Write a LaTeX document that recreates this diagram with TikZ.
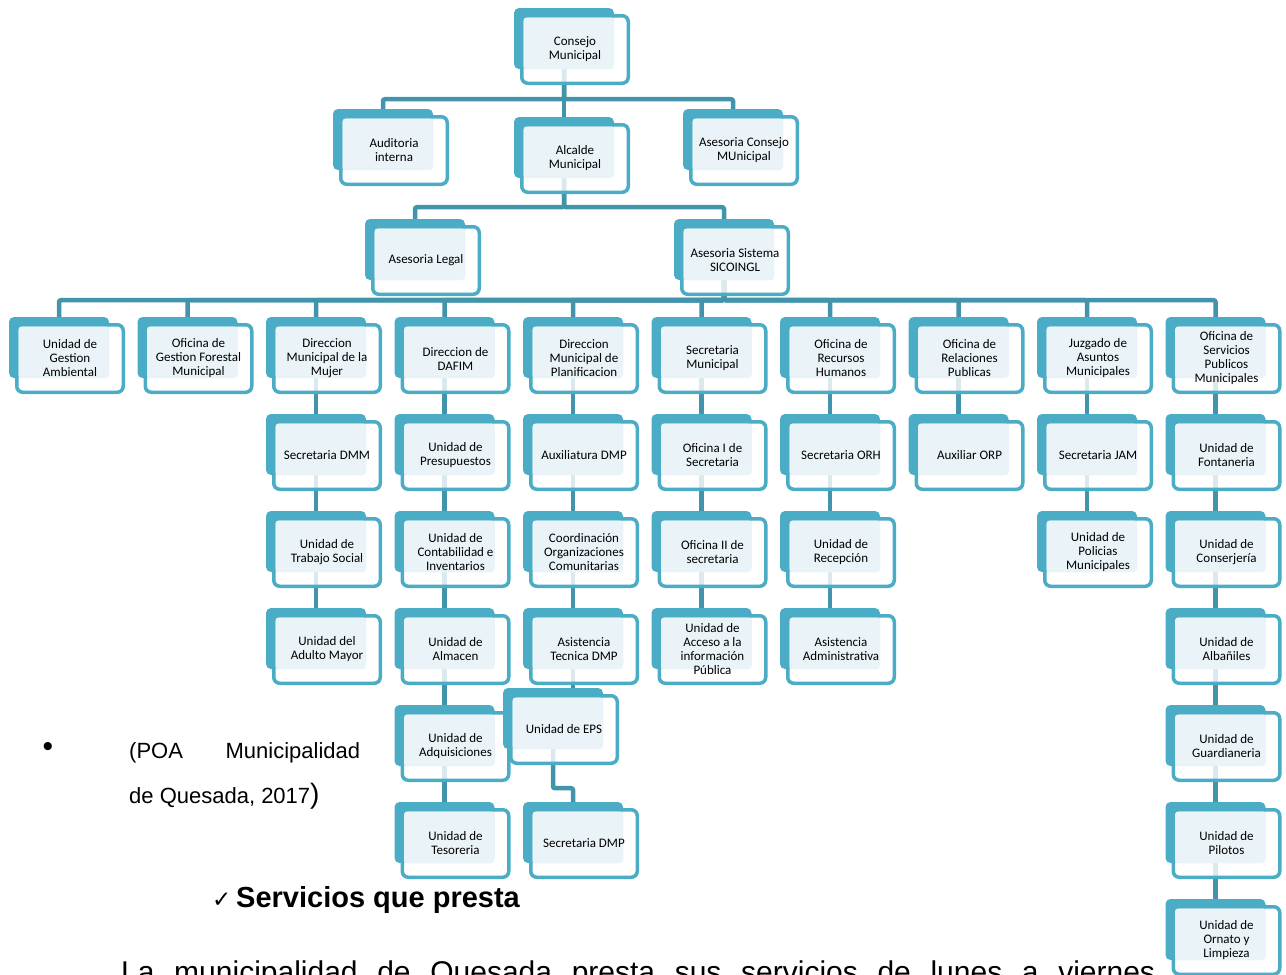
\documentclass[tikz,border=0pt]{standalone}
\usepackage{fontspec}
\setmainfont{Liberation Sans}
\newfontfamily\boxfont{Carlito}
\newfontfamily\symfont{DejaVu Sans}
\usepackage{tikz}
\usetikzlibrary{backgrounds}

\definecolor{accent}{RGB}{75,172,198}
\definecolor{linkc}{RGB}{66,148,170}
\definecolor{panel}{RGB}{234,244,248}

\tikzset{
  backbox/.style={fill=accent, rounded corners=5pt, minimum width=100pt, minimum height=61pt, inner sep=0pt},
  frontbox/.style={draw=accent, line width=3.5pt, fill=white, fill opacity=0.8, rounded corners=6pt,
    minimum width=106.5pt, minimum height=67.5pt, inner sep=0pt},
  boxtext/.style={font=\boxfont\fontsize{13}{14}\selectfont, align=center, text=black, inner sep=0pt},
  link/.style={draw=linkc, line width=4.5pt, rounded corners=2pt}
}

% one unit of the chart: back plate, framed card, pale panel, label
\newcommand{\orgunit}[4]{%
  \node[backbox] (#1-b) at (#2+50,#3+30.5) {};
  \node[frontbox] (#1-f) at (#2+61,#3+41.5) {};
  \fill[panel, rounded corners=3pt] (#2+9.5,#3+9.5) rectangle (#2+100,#3+61);
  \node[boxtext] (#1) at (#2+61,#3+41.5) {#4};
}

\begin{document}
\begin{tikzpicture}[x=1pt, y=-1pt]
  \useasboundingbox (0,0) rectangle (1286,975);
  \clip (0,0) rectangle (1286,975);

  % top of the chart
  \foreach \nm/\x/\y/\txt in {cons/514/8/{Consejo\\Municipal},
      audi/333/109/{Auditoria\\interna}, alca/514/117/{Alcalde\\Municipal},
      asco/683/109/{Asesoria Consejo\\MUnicipal},
      aleg/365/219/{Asesoria Legal}, sico/674/219/{Asesoria Sistema\\SICOINGL}}{
    \orgunit{\nm}{\x}{\y}{\txt}
  }

  % departments and their units (column / row)
  \foreach \nm/\c/\r/\txt in {
      gamb/1/4/{Unidad de\\Gestion\\Ambiental},
      gfor/2/4/{Oficina de\\Gestion Forestal\\Municipal},
      dmm/3/4/{Direccion\\Municipal de la\\Mujer},
      sdmm/3/5/{Secretaria DMM}, trab/3/6/{Unidad de\\Trabajo Social},
      adul/3/7/{Unidad del\\Adulto Mayor},
      dafim/4/4/{Direccion de\\DAFIM},
      pres/4/5/{Unidad de\\Presupuestos}, cont/4/6/{Unidad de\\Contabilidad e\\Inventarios},
      alma/4/7/{Unidad de\\Almacen}, adqu/4/8/{Unidad de\\Adquisiciones},
      teso/4/9/{Unidad de\\Tesoreria},
      dmp/5/4/{Direccion\\Municipal de\\Planificacion},
      aux/5/5/{Auxiliatura DMP}, coor/5/6/{Coordinación\\Organizaciones\\Comunitarias},
      asis/5/7/{Asistencia\\Tecnica DMP}, sdmp/5/9/{Secretaria DMP},
      smun/6/4/{Secretaria\\Municipal},
      of1/6/5/{Oficina I de\\Secretaria}, of2/6/6/{Oficina II de\\secretaria},
      acce/6/7/{Unidad de\\Acceso a la\\información\\Pública},
      orh/7/4/{Oficina de\\Recursos\\Humanos},
      sorh/7/5/{Secretaria ORH}, rece/7/6/{Unidad de\\Recepción},
      asad/7/7/{Asistencia\\Administrativa},
      orp/8/4/{Oficina de\\Relaciones\\Publicas}, aorp/8/5/{Auxiliar ORP},
      jam/9/4/{Juzgado de\\Asuntos\\Municipales},
      sjam/9/5/{Secretaria JAM}, poli/9/6/{Unidad de\\Policias\\Municipales},
      ospm/10/4/{Oficina de\\Servicios\\Publicos\\Municipales},
      font/10/5/{Unidad de\\Fontaneria}, consj/10/6/{Unidad de\\Conserjería},
      alba/10/7/{Unidad de\\Albañiles}, guar/10/8/{Unidad de\\Guardianeria},
      pilo/10/9/{Unidad de\\Pilotos}, orna/10/10/{Unidad de\\Ornato y\\Limpieza}}{
    \pgfmathsetmacro\bx{9+128.5*(\c-1)}
    \pgfmathsetmacro\by{317+97*(\r-4)}
    \orgunit{\nm}{\bx}{\by}{\txt}
  }
  \orgunit{eps}{503}{688}{Unidad de EPS}

  % connectors
  \begin{scope}[on background layer]
    \draw[link] (cons-b.south) -- (alca-b.north);
    \foreach \ch in {audi,asco}
      \draw[link] (cons-b.south) -- ++(0,30) -| (\ch-b.north);
    \foreach \ch in {aleg,sico}
      \draw[link] (alca-b.south) -- ++(0,29) -| (\ch-b.north);
    \foreach \ch in {gamb,gfor,dmm,dafim,dmp,smun,orh,orp,jam,ospm}
      \draw[link] (sico-b.south) -- ++(0,20) -| (\ch-b.north);
    \foreach \p/\q in {dmm/sdmm,sdmm/trab,trab/adul,dafim/pres,pres/cont,cont/alma,
        alma/adqu,adqu/teso,dmp/aux,aux/coor,coor/asis,smun/of1,of1/of2,of2/acce,
        orh/sorh,sorh/rece,rece/asad,orp/aorp,jam/sjam,sjam/poli,ospm/font,
        font/consj,consj/alba,alba/guar,guar/pilo,pilo/orna}
      \draw[link] (\p-b.south) -- (\q-b.north);
    \draw[link] (asis-b.south) -- (asis-b.south |- eps-b.north);
    \draw[link] (eps-b.south) -- ++(0,39) -| (sdmp-b.north);
  \end{scope}

  % text below the chart
  \node[inner sep=0pt] (bul) at (48,749) {\fontsize{30}{30}\selectfont •};
  \node[anchor=base west, inner sep=0pt] (src1) at (129,758)
    {\fontsize{22}{26}\selectfont\makebox[231pt][s]{(POA Municipalidad}};
  \node[anchor=base west, inner sep=0pt] (src2) at (129,803)
    {\fontsize{22}{26}\selectfont de Quesada, 2017{\fontsize{28}{30}\selectfont)}};
  \node[anchor=base west, inner sep=0pt] (chk) at (212,907)
    {\symfont\fontsize{23}{24}\selectfont ✓};
  \node[anchor=base west, inner sep=0pt] (serv) at (236,907)
    {\bfseries\fontsize{29}{32}\selectfont Servicios que presta};
  \node[anchor=base west, inner sep=0pt] (lamu) at (121,982)
    {\fontsize{30}{34}\selectfont\makebox[1034pt][s]{La municipalidad de Quesada presta sus servicios de lunes a viernes}};
\end{tikzpicture}
\end{document}
